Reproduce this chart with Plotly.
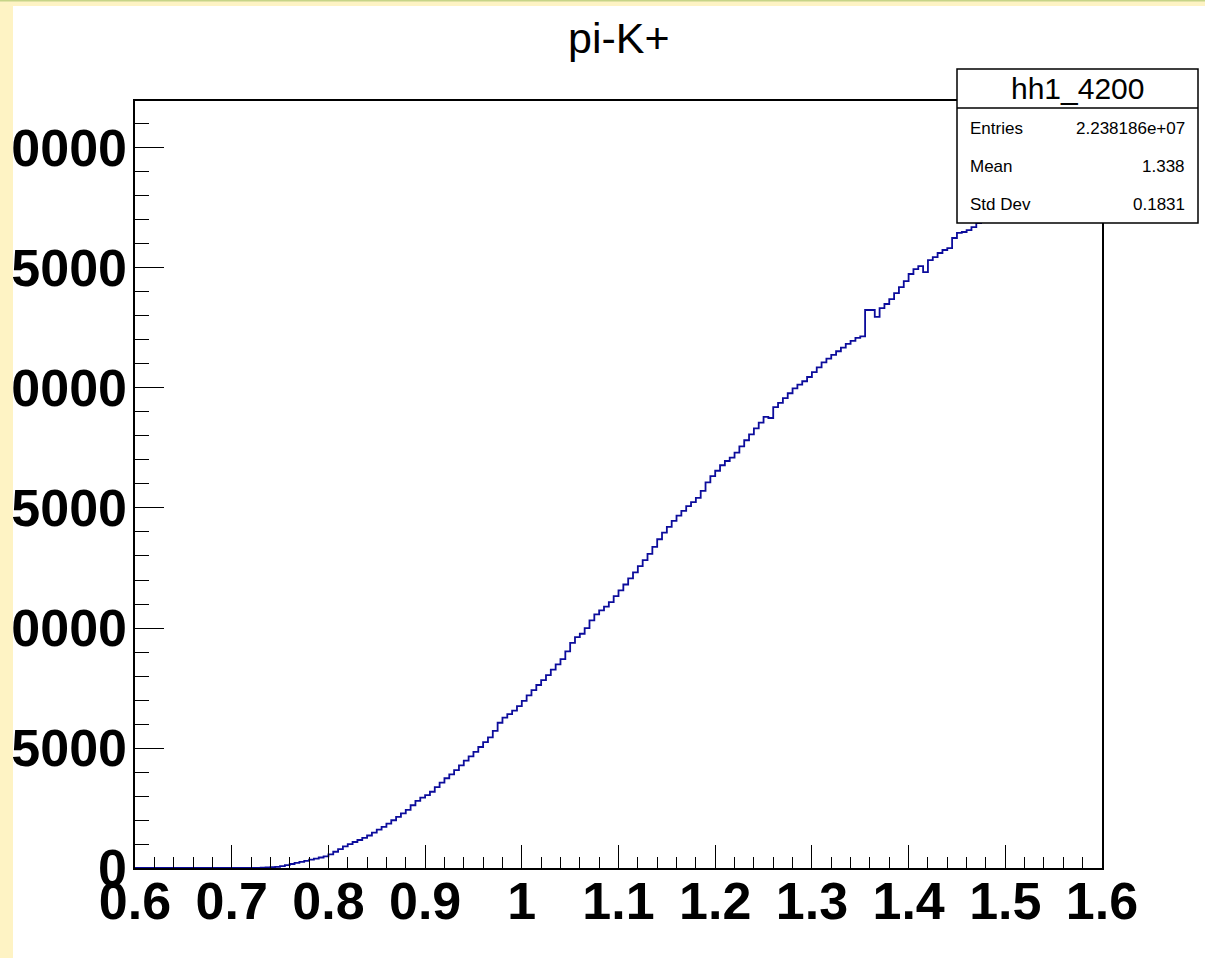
import numpy as np
import plotly.graph_objects as go

# histogram hh1_4200: 200 bins of width 0.005 between 0.6 and 1.6
x_low = 0.6
bin_width = 0.005
counts = [0] * 25 + [
    5, 12, 22, 35, 48, 78, 123, 167, 213, 255,
    300, 347, 391, 437, 482, 567, 677, 790, 900, 998,
    1084, 1167, 1252, 1355, 1475, 1597, 1717, 1848, 1989, 2131,
    2272, 2425, 2614, 2800, 2934, 3033, 3178, 3370, 3560, 3739,
    3898, 4076, 4277, 4471, 4648, 4839, 5042, 5241, 5440, 5715,
    6051, 6267, 6413, 6559, 6748, 6966, 7190, 7411, 7624, 7830,
    8038, 8264, 8485, 8707, 9022, 9382, 9621, 9760, 9991, 10318,
    10570, 10733, 10893, 11080, 11325, 11565, 11813, 12066, 12320, 12574,
    12828, 13086, 13381, 13698, 13975, 14215, 14460, 14681, 14884, 15074,
    15244, 15418, 15716, 16064, 16325, 16551, 16781, 16958, 17102, 17305,
    17564, 17822, 18068, 18318, 18560, 18800, 18750, 19200, 19380, 19580,
    19780, 19980, 20139, 20280, 20459, 20660, 20860, 21065, 21223, 21376,
    21530, 21684, 21838, 21967, 22088, 22150, 23250, 23250, 22960, 23330,
    23500, 23700, 23950, 24200, 24450, 24750, 24950, 25080, 24830, 25330,
    25450, 25625, 25750, 25830, 26250, 26460, 26500, 26580, 26700, 26875,
    27000, 27150, 27280, 27450, 27600, 27720, 27880, 28020, 28150, 28300,
    28450, 28580, 28700, 28860, 29000, 29120, 29260, 29400, 29530, 29680,
    29800, 29950, 30100, 30250, 30436,
]
hist_name = "hh1_4200"
title = "pi-K+"
stat_labels = ["Entries", "Mean", "Std Dev"]
stat_values = ["2.238186e+07", "1.338", "0.1831"]

y_max = 1.05 * max(counts)

edges = x_low + bin_width * np.arange(len(counts) + 1)
steps = counts + [counts[-1]]

W, H = 1205, 958
L, R, T, B = 135, 1102, 101, 868  # frame in pixels


def px(x):
    return (x - L) / (R - L)


def py(y):
    return (B - y) / (B - T)


fig = go.Figure()
# visible histogram on x/y (frame + ticks)
fig.add_trace(go.Scatter(
    x=edges, y=steps, mode="lines", line_shape="hv",
    line=dict(color="#0c0c9c", width=1.8),
    hoverinfo="skip", showlegend=False,
))
# transparent copy on x2/y2, which only carry the tick labels (nudged like ROOT)
fig.add_trace(go.Scatter(
    x=edges, y=steps, mode="lines", line_shape="hv", xaxis="x2", yaxis="y2",
    opacity=0, hoverinfo="skip", showlegend=False,
))

tickfont = dict(family="Liberation Sans", size=52, color="black", weight="bold")

fig.update_layout(
    xaxis=dict(
        range=[0.6, 1.6], tick0=0.6, dtick=0.1,
        ticks="inside", ticklen=23, tickwidth=1.3, tickcolor="black",
        minor=dict(dtick=0.02, ticks="inside", ticklen=11, tickwidth=1.3, tickcolor="black"),
        showline=True, linecolor="black", linewidth=2, mirror=True,
        showgrid=False, zeroline=False, showticklabels=False, automargin=False,
    ),
    yaxis=dict(
        range=[0, y_max], tick0=0, dtick=5000,
        ticks="inside", ticklen=29, tickwidth=1.3, tickcolor="black",
        minor=dict(dtick=1000, ticks="inside", ticklen=14, tickwidth=1.3, tickcolor="black"),
        showline=True, linecolor="black", linewidth=2, mirror=True,
        showgrid=False, zeroline=False, showticklabels=False, automargin=False,
    ),
    xaxis2=dict(
        overlaying="x", anchor="free", position=py(866), side="bottom",
        range=[0.6, 1.6], tick0=0.6, dtick=0.1, ticks="", showline=False,
        showgrid=False, zeroline=False, tickfont=tickfont, automargin=False,
    ),
    yaxis2=dict(
        overlaying="y", anchor="free", position=0, side="left",
        range=[0, y_max], tick0=0, dtick=5000, tickformat="d", ticks="",
        showline=False, showgrid=False, zeroline=False, tickfont=tickfont,
        ticklabelstandoff=8, automargin=False,
    ),
)

shapes = [
    # canvas border strips
    dict(type="rect", xref="paper", yref="paper", x0=px(0), x1=px(13), y0=py(958), y1=py(0),
         fillcolor="#fef3c4", line_width=0, layer="above"),
    dict(type="rect", xref="paper", yref="paper", x0=px(0), x1=px(W), y0=py(6), y1=py(0),
         fillcolor="#fef3c4", line_width=0, layer="above"),
    dict(type="rect", xref="paper", yref="paper", x0=px(0), x1=px(W), y0=py(1.5), y1=py(0),
         fillcolor="#c6d488", line_width=0, layer="above"),
    # stats box
    dict(type="rect", xref="paper", yref="paper", x0=px(957), x1=px(1198), y0=py(223), y1=py(69),
         fillcolor="white", line=dict(color="black", width=1.5), layer="above"),
    dict(type="line", xref="paper", yref="paper", x0=px(957), x1=px(1198), y0=py(108), y1=py(108),
         line=dict(color="black", width=1.5), layer="above"),
]

annotations = [
    dict(text=title, x=px(619), y=py(38), xref="paper", yref="paper", showarrow=False,
         xanchor="center", yanchor="middle",
         font=dict(family="Liberation Sans", size=43, color="black")),
    dict(text=hist_name, x=px(1077), y=py(88), xref="paper", yref="paper", showarrow=False,
         xanchor="center", yanchor="middle",
         font=dict(family="Liberation Sans", size=30, color="black")),
]
for i, (lab, val) in enumerate(zip(stat_labels, stat_values)):
    yy = [128, 167, 205][i]
    annotations.append(dict(text=lab, x=px(968), y=py(yy), xref="paper", yref="paper",
                            showarrow=False, xanchor="left", yanchor="middle",
                            font=dict(family="Liberation Sans", size=17, color="black")))
    annotations.append(dict(text=val, x=px(1187), y=py(yy), xref="paper", yref="paper",
                            showarrow=False, xanchor="right", yanchor="middle",
                            font=dict(family="Liberation Sans", size=17, color="black")))

fig.update_layout(
    width=W, height=H,
    margin=dict(l=L, r=W - R, t=T, b=H - B, pad=0, autoexpand=False),
    paper_bgcolor="white", plot_bgcolor="white",
    shapes=shapes, annotations=annotations, showlegend=False,
)

fig.write_html("out.html", config={"displayModeBar": False},
               post_script="document.body.style.margin='0';")
